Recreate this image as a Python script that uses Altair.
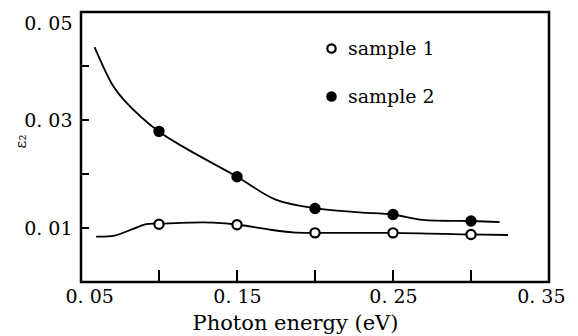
import altair as alt
import pandas as pd

# marker data
energy_pts = [0.10, 0.15, 0.20, 0.25, 0.30]
s1_pts = [0.0107, 0.0106, 0.0091, 0.0091, 0.0088]
s2_pts = [0.0279, 0.0195, 0.0136, 0.0125, 0.0113]

# smooth curves
s1_curve_x = [0.0597, 0.0715, 0.0832, 0.0918, 0.101, 0.1196, 0.1345, 0.1512, 0.1709, 0.1859, 0.2004, 0.25, 0.3003, 0.3237]
s1_curve_y = [0.0084, 0.0086, 0.0098, 0.0107, 0.0108, 0.0110, 0.0110, 0.0106, 0.0097, 0.0092, 0.0091, 0.0091, 0.0088, 0.0087]
s2_curve_x = [0.0587, 0.0704, 0.0779, 0.0997, 0.1175, 0.15, 0.1752, 0.2019, 0.2286, 0.25, 0.2692, 0.301, 0.3184]
s2_curve_y = [0.0435, 0.0364, 0.0336, 0.0279, 0.0247, 0.0195, 0.0152, 0.0136, 0.0129, 0.0125, 0.0115, 0.0113, 0.0111]

series_names = ["sample 1", "sample 2"]
x_tick_vals = [0.05, 0.10, 0.15, 0.20, 0.25, 0.30, 0.35]
x_label_vals = [0.05, 0.15, 0.25, 0.35]
y_tick_vals = [0.01, 0.02, 0.03, 0.04]
y_label_vals = [0.01, 0.03, 0.05]

FONT = "DejaVu Serif"

pts = pd.DataFrame({
    "x": energy_pts * 2,
    "y": s1_pts + s2_pts,
    "s": [series_names[0]] * len(energy_pts) + [series_names[1]] * len(energy_pts),
})
curves = pd.DataFrame({
    "x": s1_curve_x + s2_curve_x,
    "y": s1_curve_y + s2_curve_y,
    "s": [series_names[0]] * len(s1_curve_x) + [series_names[1]] * len(s2_curve_x),
})
xt = pd.DataFrame({"t": x_tick_vals})
yt = pd.DataFrame({"t": y_tick_vals})

xscale = alt.Scale(domain=[0.05, 0.35], nice=False, zero=False)
yscale = alt.Scale(domain=[0, 0.05], nice=False, zero=False)

label_expr = "replace(format(datum.value, '.2f'), '.', '. ')"

xaxis = alt.Axis(values=x_label_vals, labelExpr=label_expr, ticks=False, domain=False, grid=False,
                 labelFont=FONT, labelFontSize=19, labelColor="black", labelPadding=5,
                 labelFlush=True, labelFlushOffset=16,
                 title="Photon energy  (eV)", titleFont=FONT, titleFontSize=21,
                 titleFontWeight="normal", titleColor="black", titleX=214, titleY=47,
                 titleAnchor="middle", titleBaseline="alphabetic")
yaxis = alt.Axis(values=y_label_vals, labelExpr=label_expr, ticks=False, domain=False, grid=False,
                 labelFont=FONT, labelFontSize=19, labelColor="black", labelPadding=9,
                 labelFlush=True, labelFlushOffset=-2,
                 title="ε₂", titleFont=FONT, titleFontSize=15,
                 titleFontWeight="normal", titleColor="black", titleX=-61, titleY=129,
                 titleAngle=-90, titleBaseline="middle", titleAlign="center")

base_x = alt.X("x:Q", scale=xscale, axis=xaxis)
base_y = alt.Y("y:Q", scale=yscale, axis=yaxis)

lines = alt.Chart(curves).mark_line(color="black", strokeWidth=1.8, interpolate="catmull-rom").encode(
    x=base_x, y=base_y, detail="s:N"
)

points = alt.Chart(pts).mark_point(filled=True, stroke="black", strokeWidth=2.2, size=85, opacity=1,
                                   shape="circle").encode(
    x="x:Q", y="y:Q",
    fill=alt.Fill("s:N", scale=alt.Scale(domain=series_names, range=["white", "black"]),
                  legend=alt.Legend(title=None, orient="none", legendX=241, legendY=27,
                                    labelFont=FONT, labelFontSize=19, labelColor="black",
                                    symbolType="circle", symbolSize=70, symbolStrokeColor="black",
                                    symbolStrokeWidth=2.2, rowPadding=28, labelOffset=7,
                                    padding=0)),
)

xticks = alt.Chart(xt).mark_rule(color="black", strokeWidth=2).encode(
    x=alt.X("t:Q", scale=xscale), y=alt.value(270), y2=alt.value(258)
)
yticks = alt.Chart(yt).mark_rule(color="black", strokeWidth=2).encode(
    y=alt.Y("t:Q", scale=yscale), x=alt.value(0), x2=alt.value(8)
)

chart = alt.layer(lines, points, xticks, yticks).properties(
    width=468, height=270,
    autosize=alt.AutoSizeParams(type="none"),
    padding={"left": 73, "top": 4, "right": 17, "bottom": 52},
    background="white",
).configure_view(stroke="black", strokeWidth=2.5)

chart.save("out.html", embed_options={"renderer": "svg", "actions": False})
